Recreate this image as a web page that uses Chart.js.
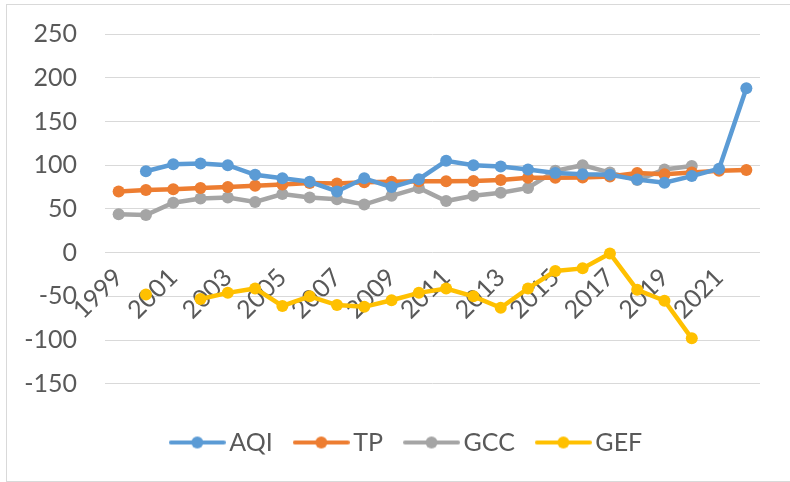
<!DOCTYPE html>
<html>
<head>
<meta charset="utf-8">
<script src="https://cdn.jsdelivr.net/npm/chart.js@4.4.0/dist/chart.umd.min.js"></script>
<style>
  html, body { margin: 0; padding: 0; background: #fff; }
  #frame { position: absolute; left: 6px; top: 4px; width: 800px; height: 476px; border: 1px solid #d9d9d9; }
  #box { position: absolute; left: 0; top: 0; width: 790px; height: 482px; }
</style>
</head>
<body>
<div id="frame"></div>
<div id="box"><canvas id="chart-canvas" width="790" height="482"></canvas></div>
<script>
const years = ["1999", "2000", "2001", "2002", "2003", "2004", "2005", "2006", "2007", "2008", "2009", "2010",
               "2011", "2012", "2013", "2014", "2015", "2016", "2017", "2018", "2019", "2020", "2021", "2022"];
const aqi = [null, 93, 101, 102, 100, 89, 85, 81, 70, 85, 75, 84, 105, 100, 98.5, 95, 91, 89.5, 89, 83.5, 80, 87.5, 96, 188];
const tp  = [70, 71.5, 72.5, 74, 75, 76.5, 78, 79.5, 79, 80.5, 81, 81.5, 81.5, 82, 83, 85.5, 85.5, 86, 87, 91, 89.5, 91.5, 93.5, 94.5];
const gcc = [44, 43, 57, 62, 63, 58, 67, 63, 61, 55, 65, 74, 59, 65, 68.5, 74, 93.5, 100, 91.5, 83, 95, 99, null, null];
const gef = [null, -48, null, -53, -46, -41, -61, -50, -60, -62, -54.5, -46, -41, -50, -63, -41, -21, -18, -1, -42.5, -55, -98, null, null];
const yTicks = [-150, -100, -50, 0, 50, 100, 150, 200, 250];

const names = ["AQI", "TP", "GCC", "GEF"];
const colors = ["#5B9BD5", "#ED7D31", "#A5A5A5", "#FFC000"];
const series = [aqi, tp, gcc, gef];

const textColor = "#595959";
const font = { family: "Lato", size: 25 };

// little line-with-dot picture used as the legend marker
function makeMarker(color) {
  const c = document.createElement("canvas");
  c.width = 57;
  c.height = 14;
  const g = c.getContext("2d");
  g.strokeStyle = color;
  g.lineWidth = 4;
  g.lineCap = "round";
  g.beginPath();
  g.moveTo(2, 7);
  g.lineTo(55, 7);
  g.stroke();
  g.fillStyle = color;
  g.beginPath();
  g.arc(28.5, 7, 6, 0, Math.PI * 2);
  g.fill();
  return c;
}
const markers = colors.map(makeMarker);

// push the legend a bit right, like the original
const legendShift = {
  id: "legendShift",
  afterLayout(chart) {
    chart.legend.left += 30;
    chart.legend.right += 30;
  }
};

const ctx = document.getElementById("chart-canvas").getContext("2d");
new Chart(ctx, {
  type: "line",
  data: {
    labels: years,
    datasets: series.map((d, i) => ({
      label: names[i],
      data: d,
      borderColor: colors[i],
      backgroundColor: colors[i],
      borderWidth: 4.5,
      pointRadius: 6,
      pointBorderWidth: 0,
      pointBackgroundColor: colors[i],
      tension: 0
    }))
  },
  plugins: [legendShift],
  options: {
    responsive: false,
    animation: false,
    devicePixelRatio: 1,
    layout: { padding: { top: 34, right: 30, left: 0, bottom: 17 } },
    scales: {
      x: {
        type: "category",
        offset: true,
        position: { y: 0 },
        z: 1,
        grid: { display: false, offset: true },
        border: { display: false },
        ticks: {
          autoSkip: false,
          minRotation: 45,
          maxRotation: 45,
          color: textColor,
          font: font,
          padding: 2,
          callback: (v, i) => (i % 2 === 0 ? years[i] : "")
        }
      },
      y: {
        min: -150,
        max: 250,
        afterBuildTicks: (s) => { s.ticks = yTicks.map(v => ({ value: v })); },
        afterFit: (s) => { s.width = 105; },
        grid: { color: "#d9d9d9", lineWidth: 1, drawTicks: true, tickLength: 28, tickColor: "rgba(0,0,0,0)" },
        border: { display: false },
        ticks: { color: textColor, font: font, padding: 0 }
      }
    },
    plugins: {
      tooltip: { enabled: false },
      legend: {
        position: "bottom",
        title: { display: true, text: "", font: { size: 1 }, padding: { top: 0, bottom: 16 } },
        labels: {
          usePointStyle: true,
          pointStyleWidth: 39,
          padding: 29,
          color: textColor,
          font: font,
          generateLabels: (chart) =>
            Chart.defaults.plugins.legend.labels.generateLabels(chart).map((l, i) => ({ ...l, pointStyle: markers[i] }))
        }
      }
    }
  }
});
</script>
</body>
</html>
